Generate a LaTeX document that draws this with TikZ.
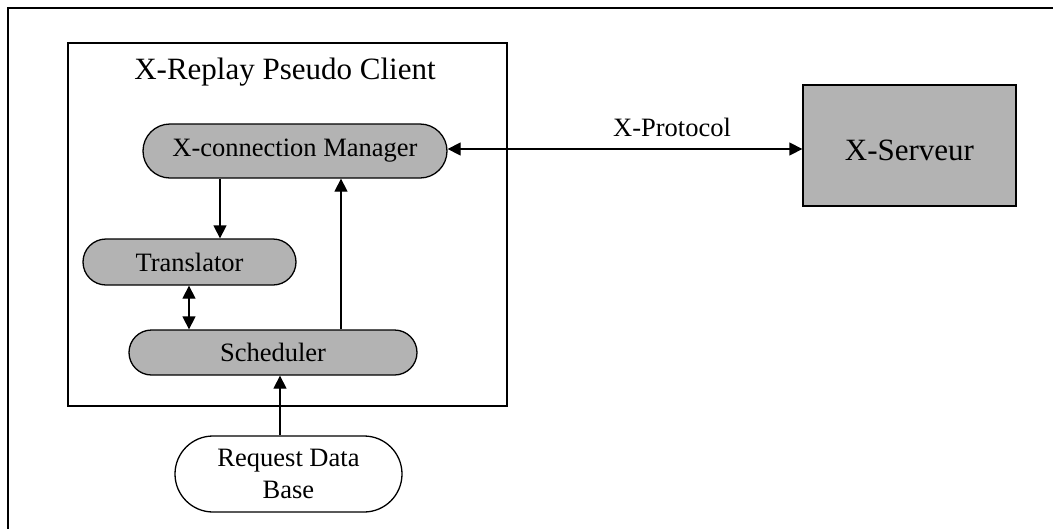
\documentclass[tikz,border=0pt]{standalone}
\usepackage{fontspec}
\setmainfont{Liberation Serif}
\usetikzlibrary{arrows.meta}
\definecolor{boxgray}{HTML}{B3B3B3}
\begin{document}
\begin{tikzpicture}[x=1pt,y=-1pt,
  line width=1.3pt,
  capsule/.style={draw, fill=boxgray, rounded corners=#1, inner sep=0pt,
    font=\fontsize{26.5}{32}\selectfont},
  plainlabel/.style={inner sep=0pt, font=\fontsize{26.5}{32}\selectfont},
  arr/.style={-{Triangle[length=13pt,width=13pt]}},
  darr/.style={{Triangle[length=13pt,width=13pt]}-{Triangle[length=13pt,width=13pt]}}]
  \useasboundingbox (0,0) rectangle (1053,528);
  % outer frame (runs off the page at right and bottom)
  \draw (8,540) -- (8,8) -- (1060,8);
  % pseudo client container
  \node[draw, minimum width=439pt, minimum height=363pt, inner sep=0pt] (client) at (287.5,224.5) {};
  \node[inner sep=0pt, font=\fontsize{31}{36}\selectfont] (title) at (285,72) {X-Replay Pseudo Client};
  % components
  \node[capsule=27pt, minimum width=304pt, minimum height=54pt] (mgr) at (295,151) {X-connection Manager};
  \node[capsule=23pt, minimum width=213pt, minimum height=46pt] (trans) at (189.5,262) {Translator};
  \node[capsule=22.5pt, minimum width=288pt, minimum height=45pt] (sched) at (273,352.5) {Scheduler};
  \node[draw, fill=white, rounded corners=38pt, minimum width=227pt, minimum height=76pt,
        inner sep=0pt, align=center, font=\fontsize{26.5}{32}\selectfont] (rdb) at (288.5,474) {Request Data\\Base};
  \node[draw, fill=boxgray, minimum width=213pt, minimum height=121pt, inner sep=0pt,
        text height=29pt, text depth=0pt,
        font=\fontsize{31}{36}\selectfont] (serv) at (909.5,145.5) {X-Serveur};
  \node[plainlabel] (proto) at (672,127) {X-Protocol};
  % connector columns
  \coordinate (c1) at (220,0);
  \coordinate (c2) at (189,0);
  \coordinate (c3) at (341,0);
  \coordinate (c4) at (280,0);
  \coordinate (c5) at (0,149);
  % connectors
  \draw[arr] (mgr.south -| c1) -- (trans.north -| c1);
  \draw[darr] (trans.south -| c2) -- (sched.north -| c2);
  \draw[arr] (sched.north -| c3) -- (mgr.south -| c3);
  \draw[arr] (rdb.north -| c4) -- (sched.south -| c4);
  \draw[darr] (mgr.east |- c5) -- (serv.west |- c5);
\end{tikzpicture}
\end{document}
